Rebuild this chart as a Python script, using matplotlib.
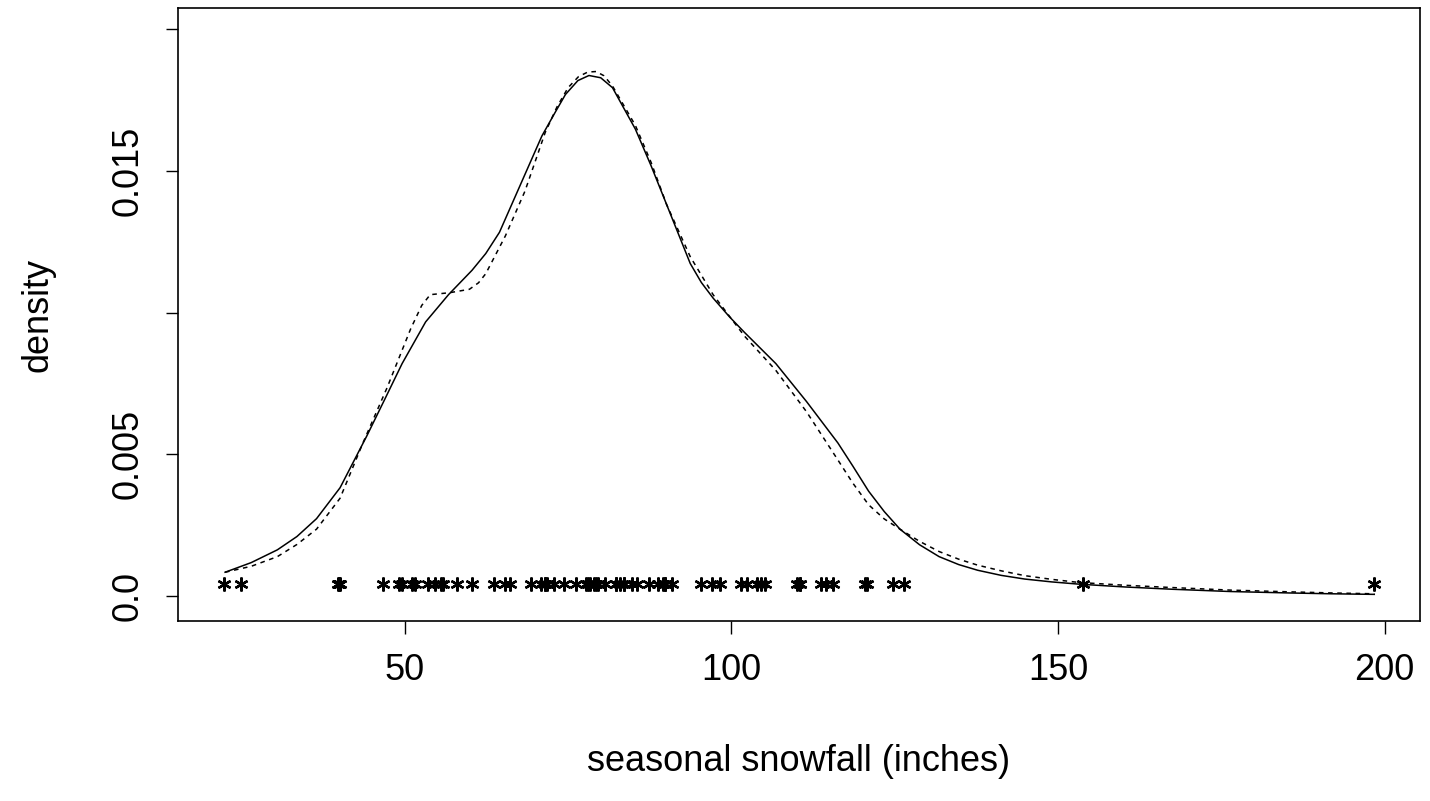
import matplotlib
matplotlib.use('Agg')
import matplotlib.pyplot as plt

plt.rcParams['font.family'] = ['Liberation Sans', 'DejaVu Sans']

# seasonal snowfall values (inches)
snowfall = [22.3, 25.0, 39.8, 39.9, 40.1, 46.7, 49.1, 49.6, 51.1, 51.6,
            53.5, 54.7, 55.5, 55.9, 58.0, 60.3, 63.6, 65.4, 66.1, 69.3,
            70.9, 71.4, 71.5, 71.8, 72.9, 74.4, 76.2, 77.8, 78.1, 78.4,
            79.0, 79.3, 79.6, 80.7, 82.4, 82.4, 83.0, 83.6, 83.6, 84.8,
            85.5, 87.4, 88.7, 89.6, 89.8, 89.9, 90.9, 95.3, 97.0, 98.3,
            101.4, 102.4, 103.9, 104.5, 105.2, 110.0, 110.5, 110.5, 113.7,
            114.5, 115.6, 120.5, 120.7, 124.7, 126.4, 153.8, 198.4]

# solid density curve
solid_x = [22.5, 26.5, 30.5, 33.5, 36.5, 40.1, 44.2, 46.9, 49.6, 53.2,
           56.7, 60.3, 62.4, 64.5, 67.5, 71.0, 73.0, 74.6, 76.5, 78.2,
           80.0, 81.8, 85.3, 87.7, 90.1, 93.7, 95.4, 97.2, 99.7, 102.0,
           106.8, 111.5, 116.3, 118.6, 121.0, 123.4, 125.8, 128.8, 131.8,
           134.8, 137.7, 141.3, 144.9, 149.0, 153.2, 160.3, 167.5, 176.4,
           185.3, 191.9, 198.4]
solid_y = [0.00084, 0.00118, 0.00163, 0.0021, 0.00273, 0.00382, 0.00565,
           0.00692, 0.0082, 0.00967, 0.01063, 0.01149, 0.01208, 0.01283,
           0.0144, 0.01623, 0.01705, 0.01769, 0.01818, 0.01836, 0.01828,
           0.01793, 0.01647, 0.01518, 0.0138, 0.01173, 0.01106, 0.01051,
           0.00985, 0.0093, 0.0082, 0.00686, 0.0054, 0.00458, 0.0037,
           0.00298, 0.00236, 0.00181, 0.00139, 0.00111, 0.00091, 0.00073,
           0.0006, 0.0005, 0.00042, 0.00032, 0.00024, 0.00016, 0.00011,
           0.00008, 0.00006]

# dashed density curve
dash_x = [22.5, 26.5, 30.5, 33.5, 36.5, 40.1, 43.6, 47.3, 50.9, 52.6,
          53.9, 56.9, 59.9, 61.3, 62.4, 65.4, 68.4, 71.5, 73.3, 75.0,
          76.6, 78.0, 79.3, 80.5, 81.8, 85.3, 87.7, 90.1, 93.7, 97.2,
          102.0, 106.8, 111.5, 116.3, 118.6, 121.0, 123.4, 125.8, 128.8,
          131.8, 134.8, 137.7, 141.3, 144.9, 149.0, 153.2, 160.3, 167.5,
          176.4, 185.3, 191.9, 198.4]
dash_y = [0.00084, 0.00105, 0.00139, 0.00182, 0.00236, 0.00345, 0.0054,
          0.00735, 0.00942, 0.01025, 0.01063, 0.0107, 0.01082, 0.01105,
          0.01137, 0.0127, 0.01428, 0.01635, 0.01725, 0.01793, 0.01832,
          0.01848, 0.0185, 0.01835, 0.01799, 0.0166, 0.0153, 0.0138,
          0.01197, 0.01063, 0.00917, 0.00796, 0.0065, 0.0048, 0.00398,
          0.00322, 0.00272, 0.00236, 0.00193, 0.00157, 0.0013, 0.00109,
          0.00089, 0.00072, 0.00059, 0.00048, 0.00038, 0.0003, 0.00021,
          0.00015, 0.00011, 0.00008]

fig = plt.figure(figsize=(14.3, 8.01), dpi=100)
ax = fig.add_axes([0.1245, 0.2247, 0.8685, 0.7653])

ax.plot(solid_x, solid_y, color='black', lw=1.1)
ax.plot(dash_x, dash_y, color='black', lw=1.1, dashes=(3, 3))
ax.plot(snowfall, [0.00042] * len(snowfall), ls='none', marker=(6, 2, 0),
        ms=10, mew=1.7, color='black')

ax.set_xlim(15.3, 205.4)
ax.set_ylim(-0.00088, 0.02074)
ax.set_xticks([50, 100, 150, 200])
ax.set_xticklabels(['50', '100', '150', '200'])
ax.set_yticks([0.0, 0.005, 0.010, 0.015, 0.020])
ax.set_yticklabels(['0.0', '0.005', '', '0.015', ''], rotation=90, va='center')
ax.tick_params(labelsize=26, length=9, width=1.0, direction='out', pad=14)
for s in ax.spines.values():
    s.set_linewidth(1.2)

ax.set_xlabel('seasonal snowfall (inches)', fontsize=26, labelpad=40)
ax.set_ylabel('density', fontsize=26, labelpad=40)

fig.savefig('out.png')
